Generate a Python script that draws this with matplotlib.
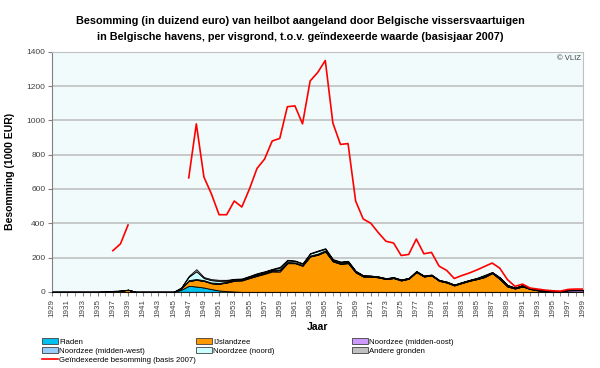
#!/usr/bin/env python3

# import modules
from matplotlib import pyplot as plt
from matplotlib.patches import Patch
from matplotlib.lines import Line2D
import numpy as np

plt.rcParams['font.family'] = ['Liberation Sans', 'DejaVu Sans']

nan = np.nan

# data
years = np.arange(1929, 2000)

fladen = [0]*17 + [12, 35, 31, 25, 16, 8, 4, 2] + [0]*46
ijslandzee = ([0]*7 + [1, 4, 6, 12] + [0]*6 +
	[8, 29, 39, 39, 34, 39, 50, 62, 66, 80, 93, 105, 119, 118,
	 167, 167, 152, 206, 216, 235, 177, 163, 167, 113,
	 89, 89, 84, 74, 80, 66, 76, 115, 89, 95,
	 64, 54, 37, 51, 64, 74, 86, 109, 74, 31,
	 19, 31, 16, 8, 2, 0, 0, 0, 0, 0])
midden_oost = ([0]*22 +
	[1, 1, 4, 3, 3, 4, 4, 4, 8,
	 3, 2, 2, 2, 2, 2, 2, 2, 2, 2,
	 1, 1, 1, 1, 1, 1, 1, 1, 1, 1,
	 1, 1, 1, 1, 1, 1, 1, 1, 1, 1,
	 1, 1, 1, 2, 2, 2, 2, 8, 9, 9])
midden_west = ([0]*17 +
	[1, 4, 5, 4, 4, 4, 4, 3, 3, 4, 4, 4, 4, 5,
	 4, 3, 3, 4, 5, 5, 4, 4, 4, 3,
	 3, 2, 2, 2, 2, 2, 2, 2, 2, 2,
	 2, 2, 2, 2, 2, 3, 4, 2, 4, 3,
	 2, 3, 2, 3, 2, 2, 1, 2, 2, 2])
noord = ([0]*17 +
	[3, 20, 45, 12, 14, 12, 6, 3, 3, 3, 4, 4, 4, 10,
	 9, 8, 7, 11, 14, 9, 5, 5, 5, 3,
	 2, 2, 2, 2, 2, 2, 2, 2, 2, 2,
	 2, 2, 2, 2, 2, 2, 4, 2, 4, 4,
	 2, 4, 1, 2, 1, 1, 0, 1, 0, 0])
andere = ([0]*8 + [2, 2, 1] + [0]*6 +
	[1, 5, 12, 6, 6, 6, 5, 2, 3, 3, 4, 3, 3, 5,
	 4, 3, 3, 3, 4, 4, 3, 3, 3, 2,
	 2, 1, 1, 1, 1, 1, 1, 2, 1, 1,
	 1, 1, 1, 1, 1, 2, 4, 2, 3, 2,
	 1, 2, 1, 1, 1, 1, 1, 1, 1, 1])
geindexeerd = ([nan]*8 + [240, 280, 390] + [nan]*7 +
	[665, 980, 670, 570, 450, 450, 530, 495, 600, 720, 775, 880, 895,
	 1080, 1085, 980, 1230, 1280, 1350, 985, 860, 865, 530,
	 425, 400, 345, 295, 285, 212, 218, 308, 222, 230,
	 150, 125, 78, 95, 110, 128, 148, 168, 138, 72,
	 32, 45, 22, 16, 10, 6, 4, 14, 16, 16])

labels = ['Fladen', 'IJslandzee', 'Noordzee (midden-oost)',
	'Noordzee (midden-west)', 'Noordzee (noord)', 'Andere gronden']
colors = ['#00C0F0', '#FF9900', '#CC99FF', '#99CCFF', '#CCFFFF', '#C0C0C0']

# figure
fig = plt.figure(figsize=(6, 3.68), dpi=100)
ax = fig.add_axes([0.087, 0.207, 0.885, 0.652])
ax.set_facecolor('#F1FBFB')

ax.stackplot(years, fladen, ijslandzee, midden_oost, midden_west, noord, andere,
	colors=colors, edgecolor='black', linewidth=0.6, zorder=3)
ax.plot(years, geindexeerd, color='#FF0000', lw=1.2, zorder=4)

ax.set_xlim(1929, 1999)
ax.set_ylim(0, 1400)
ax.set_yticks(np.arange(0, 1401, 200))
ax.yaxis.grid(True, color='#C0C0C0', lw=1.2, zorder=1)
ax.set_axisbelow(True)
ax.set_xticks(years, minor=True)
ax.set_xticks(years[::2])
ax.set_xticklabels([str(y) for y in years[::2]], rotation=90)
ax.tick_params(axis='x', which='both', direction='out', length=3, color='#808080',
	labelsize=5.8, labelcolor='#404040', pad=2)
ax.tick_params(axis='y', direction='out', length=3, color='#808080',
	labelsize=6, labelcolor='#404040', pad=2)
for s in ['top', 'right']:
	ax.spines[s].set_color('#C0C0C0')
for s in ['left', 'bottom']:
	ax.spines[s].set_color('#808080')

ax.text(0.995, 0.985, '© VLIZ', transform=ax.transAxes, ha='right', va='top',
	fontsize=5.5, color='#404040', zorder=5)

ax.set_ylabel('Besomming (1000 EUR)', fontsize=7.5, fontweight='bold', labelpad=8)
fig.text(0.529, 0.111, 'Jaar', ha='center', va='center', fontsize=7.5, fontweight='bold')

fig.text(0.5, 0.921, 'Besomming (in duizend euro) van heilbot aangeland door Belgische vissersvaartuigen\n'
	'in Belgische havens, per visgrond, t.o.v. geïndexeerde waarde (basisjaar 2007)',
	ha='center', va='center', fontsize=7.8, fontweight='bold', linespacing=1.7)

# legend in three columns
patches = [Patch(facecolor=c, edgecolor='#404040', lw=0.6, label=l) for c, l in zip(colors, labels)]
redline = Line2D([], [], color='#FF0000', lw=1.2, label='Geïndexeerde besomming (basis 2007)')
groups = [([patches[0], patches[3], redline], 0.07),
	([patches[1], patches[4]], 0.327),
	([patches[2], patches[5]], 0.587)]
for handles, xpos in groups:
	fig.legend(handles=handles, loc='upper left', bbox_to_anchor=(xpos, 0.082),
		frameon=False, fontsize=5.6, handlelength=2.0, handleheight=0.8,
		handletextpad=0.2, labelspacing=0.2, borderpad=0, borderaxespad=0)

plt.savefig('out.png', dpi=100)
